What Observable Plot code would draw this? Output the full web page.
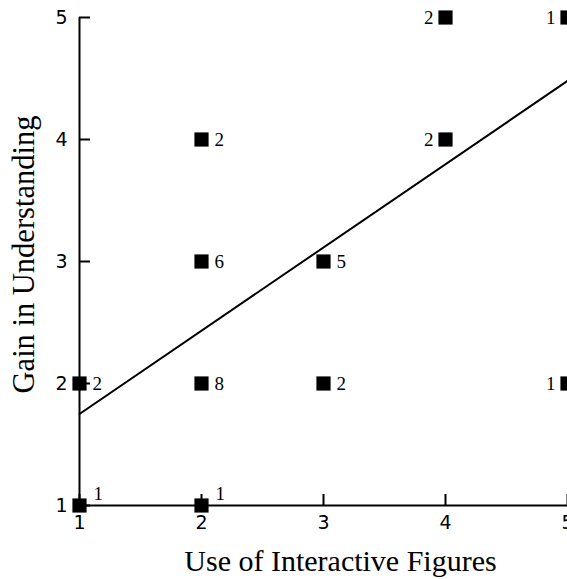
<!DOCTYPE html>
<html><head><meta charset="utf-8">
<script src="https://cdn.jsdelivr.net/npm/d3@7"></script>
<script src="https://cdn.jsdelivr.net/npm/@observablehq/plot@0.6"></script>
<style>
html,body{margin:0;padding:0;background:#fff;overflow:hidden;}
svg g[aria-label$="tick label"], svg g[aria-label$="tick label"] text { font-size: 19px !important; font-family: 'DejaVu Sans', sans-serif !important; }
</style>
</head><body><div id="chart"></div>
<script>
// Data
const useValues  = [1, 2, 1, 2, 3, 5, 2, 3, 2, 4, 4, 5];
const gainValues = [1, 1, 2, 2, 2, 2, 3, 3, 4, 4, 5, 5];
const counts     = [1, 1, 2, 8, 2, 1, 6, 5, 2, 2, 2, 1];
const fitX = [1, 5];
const fitY = [1.75, 4.48];
const tickValues = [1, 2, 3, 4, 5];
const xTitle = "Use of Interactive Figures";
const yTitle = "Gain in Understanding";

const pts = useValues.map((x, i) => ({x, y: gainValues[i], n: counts[i]}));
const fit = fitX.map((x, i) => ({x, y: fitY[i]}));
const onAxis = pts.filter(d => d.y === 1);
const leftSide = pts.filter(d => d.y !== 1 && d.x >= 4);
const rightSide = pts.filter(d => d.y !== 1 && d.x < 4);
const serif = "'Liberation Serif', 'Times New Roman', serif";
const sans = "'DejaVu Sans', sans-serif";

const chart = Plot.plot({
  width: 567, height: 579,
  marginLeft: 79, marginRight: 0, marginTop: 17, marginBottom: 74,
  x: {domain: [1, 5]},
  y: {domain: [1, 5]},
  style: {background: "#fff", color: "#000"},
  marks: [
    Plot.ruleY([1], {strokeWidth: 2}),
    Plot.ruleX([1], {strokeWidth: 2}),
    Plot.axisX({ticks: tickValues, tickSize: -11, tickPadding: 21, strokeWidth: 2,
      fontSize: 19, fontFamily: sans, label: null, tickFormat: d => String(d)}),
    Plot.axisY({ticks: tickValues, tickSize: -11, tickPadding: 23, strokeWidth: 2,
      fontSize: 19, fontFamily: sans, label: null, tickFormat: d => String(d)}),
    Plot.line(fit, {x: "x", y: "y", strokeWidth: 2, stroke: "#000"}),
    Plot.dot(pts, {x: "x", y: "y", symbol: "square", r: 8, fill: "#000"}),
    Plot.text(rightSide, {x: "x", y: "y", text: d => String(d.n), dx: 13, textAnchor: "start",
      fontSize: 19, fontFamily: serif}),
    Plot.text(leftSide, {x: "x", y: "y", text: d => String(d.n), dx: -12, textAnchor: "end",
      fontSize: 19, fontFamily: serif}),
    Plot.text(onAxis, {x: "x", y: "y", text: d => String(d.n), dx: 14, dy: -12, textAnchor: "start",
      fontSize: 19, fontFamily: serif}),
    Plot.text([xTitle], {text: d => d, frameAnchor: "bottom", textAnchor: "middle", lineAnchor: "middle",
      dx: 17, dy: 56, fontSize: 30, fontFamily: serif}),
    Plot.text([yTitle], {text: d => d, frameAnchor: "left", textAnchor: "middle", lineAnchor: "middle",
      rotate: -90, dx: -55, dy: -7, fontSize: 30.5, fontFamily: serif})
  ]
});
document.getElementById("chart").appendChild(chart);
</script>
</body></html>
